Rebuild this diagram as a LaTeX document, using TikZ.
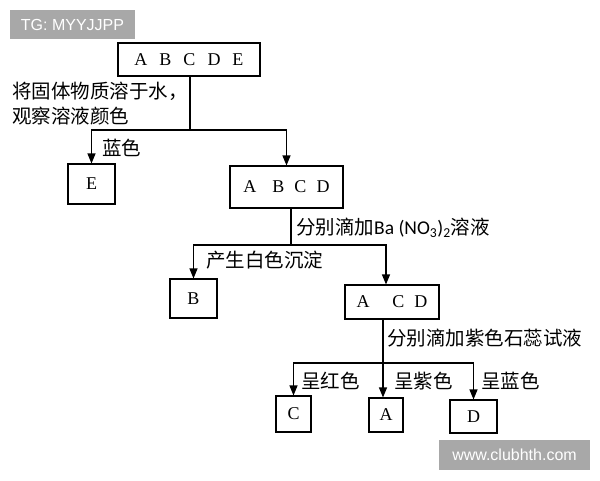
\documentclass[tikz,border=0pt]{standalone}
\usepackage{fontspec}
\setmainfont{Liberation Serif}
\newfontfamily\cjk{Noto Sans CJK SC}
\newfontfamily\carl{Carlito}
\newfontfamily\wm{Liberation Sans}
\usetikzlibrary{arrows.meta}
\begin{document}
\begin{tikzpicture}[x=1pt,y=-1pt,
 box/.style={draw,line width=1.1pt,inner sep=0pt,font=\fontsize{18}{20}\selectfont},
 ln/.style={line width=1.1pt},
 arr/.style={ln,-{Triangle[length=10pt,width=8pt]}},
 lab/.style={font=\cjk\fontsize{19.5}{24}\selectfont,anchor=west,inner sep=0pt},
 wmbox/.style={fill={rgb,255:red,168;green,168;blue,168},text=white,font=\wm\fontsize{16}{18}\selectfont,inner sep=0pt}]
\useasboundingbox (0,0) rectangle (600,480);
\fill[white] (0,0) rectangle (600,480);

% boxes
\node[box,minimum width=142pt,minimum height=33pt] (abcde) at (189,59.5) {A\hspace{12pt}B\hspace{12pt}C\hspace{12pt}D\hspace{12pt}E};
\node[box,minimum width=47pt,minimum height=40pt] (e) at (91.5,184) {E};
\node[box,minimum width=113pt,minimum height=42pt] (abcd) at (286.5,187) {A\hspace{16pt}B\hspace{10pt}C\hspace{10pt}D};
\node[box,minimum width=47pt,minimum height=39pt] (b) at (193.5,298.5) {B\hspace{8pt}};
\node[box,minimum width=94pt,minimum height=34pt] (acd) at (392,302) {A\hspace{23pt}C\hspace{10pt}D};
\node[box,minimum width=35pt,minimum height=36pt] (c) at (293.5,414) {C};
\node[box,minimum width=34pt,minimum height=34pt] (a) at (386,415) {A};
\node[box,minimum width=47pt,minimum height=33pt] (d) at (473.5,416.5) {D};

% connectors
\coordinate (j1) at (190,130);
\draw[ln] (j1 |- abcde.south) -- (j1);
\draw[arr] (j1) -| (e.north);
\draw[arr] (j1) -| (abcd.north);

\coordinate (j2) at (291,245);
\coordinate (j2r) at (386,245);
\draw[ln] (j2 |- abcd.south) -- (j2);
\draw[arr] (j2) -| (b.north);
\draw[arr] (j2) -- (j2r) -- (j2r |- acd.north);

\coordinate (j3) at (383,363);
\draw[ln] (j3 |- acd.south) -- (j3);
\draw[arr] (j3) -| (c.north);
\draw[arr] (j3) -- (j3 |- a.north);
\draw[arr] (j3) -| (d.north);

% labels
\node[lab] (l1) at (12,91) {将固体物质溶于水，};
\node[lab] (l2) at (12,116) {观察溶液颜色};
\node[lab] (l3) at (102,148) {蓝色};
\node[lab] (l4) at (296,228) {分别滴加{\carl Ba (NO\textsubscript{3})\textsubscript{2}}溶液};
\node[lab] (l5) at (206,260) {产生白色沉淀};
\node[lab] (l6) at (387,338) {分别滴加紫色石蕊试液};
\node[lab] (l7) at (301,381) {呈红色};
\node[lab] (l8) at (394,381) {呈紫色};
\node[lab] (l9) at (481,381) {呈蓝色};

% watermarks
\node[wmbox,minimum width=125pt,minimum height=29pt] (wm1) at (72.5,24.5) {TG: MYYJJPP};
\node[wmbox,minimum width=151pt,minimum height=30pt] (wm2) at (514.5,455) {www.clubhth.com};
\end{tikzpicture}
\end{document}
